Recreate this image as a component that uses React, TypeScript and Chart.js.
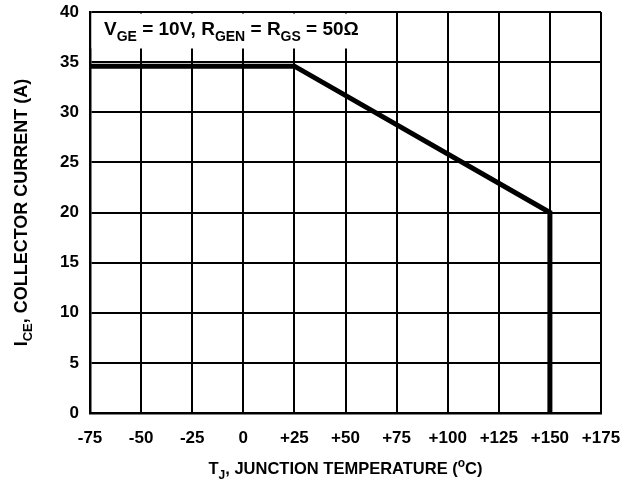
import { useEffect, useRef } from 'react';
import { Chart, registerables } from 'chart.js';

Chart.register(...registerables);

const temperatures = [-75, 25, 150, 150];
const currents = [34.6, 34.6, 20, 0];
const xMin = -75;
const xMax = 175;
const xStep = 25;
const yMin = 0;
const yMax = 40;
const yStep = 5;

const FONT = '"Liberation Sans", Arial, Helvetica, sans-serif';

type Run = { t: string; mode?: 'sub' | 'sup' };

const annotationRuns: Run[] = [
  { t: 'V' }, { t: 'GE', mode: 'sub' }, { t: ' = 10V, R' }, { t: 'GEN', mode: 'sub' },
  { t: ' = R' }, { t: 'GS', mode: 'sub' }, { t: ' = 50\u03A9' },
];
const yTitleRuns: Run[] = [{ t: 'I' }, { t: 'CE', mode: 'sub' }, { t: ', COLLECTOR CURRENT (A)' }];
const xTitleRuns: Run[] = [
  { t: 'T' }, { t: 'J', mode: 'sub' }, { t: ', JUNCTION TEMPERATURE (' }, { t: 'o', mode: 'sup' }, { t: 'C)' },
];

function runFont(size: number, r: Run) {
  const s = r.mode ? Math.round(size * 0.72) : size;
  return `bold ${s}px ${FONT}`;
}

function measureRuns(ctx: CanvasRenderingContext2D, runs: Run[], size: number) {
  let w = 0;
  for (const r of runs) {
    ctx.font = runFont(size, r);
    w += ctx.measureText(r.t).width;
  }
  return w;
}

function drawRuns(ctx: CanvasRenderingContext2D, runs: Run[], x: number, y: number, size: number) {
  ctx.textBaseline = 'alphabetic';
  ctx.textAlign = 'left';
  let cx = x;
  for (const r of runs) {
    ctx.font = runFont(size, r);
    const dy = r.mode === 'sub' ? size * 0.3 : r.mode === 'sup' ? -size * 0.4 : 0;
    ctx.fillText(r.t, cx, y + dy);
    cx += ctx.measureText(r.t).width;
  }
}

const decorPlugin = {
  id: 'decor',
  beforeDatasetsDraw(chart: any) {
    const { ctx, chartArea } = chart;
    const xs = chart.scales.x;
    ctx.save();
    ctx.fillStyle = '#fff';
    const right = xs.getPixelForValue(72);
    ctx.fillRect(chartArea.left + 1.5, chartArea.top + 1.5, right - chartArea.left - 1.5, 35);
    ctx.fillStyle = '#000';
    drawRuns(ctx, annotationRuns, chartArea.left + 14, chartArea.top + 23, 19);
    ctx.restore();
  },
  afterDraw(chart: any) {
    const { ctx, chartArea } = chart;
    ctx.save();
    ctx.fillStyle = '#000';
    const sx = 16.5;
    const wx = measureRuns(ctx, xTitleRuns, sx);
    const cx = (chartArea.left + chartArea.right) / 2;
    drawRuns(ctx, xTitleRuns, cx - wx / 2, 474, sx);
    const sy = 18;
    const wy = measureRuns(ctx, yTitleRuns, sy);
    const cy = (chartArea.top + chartArea.bottom) / 2;
    ctx.translate(27, cy);
    ctx.rotate(-Math.PI / 2);
    drawRuns(ctx, yTitleRuns, -wy / 2, 0, sy);
    ctx.restore();
  },
};

export default function App() {
  const ref = useRef<HTMLCanvasElement>(null);
  useEffect(() => {
    if (!ref.current) return;
    const chart = new Chart(ref.current, {
      type: 'line',
      data: {
        datasets: [
          {
            data: temperatures.map((t, i) => ({ x: t, y: currents[i] })),
            borderColor: '#000',
            borderWidth: 5,
            pointRadius: 0,
            fill: false,
            tension: 0,
            borderJoinStyle: 'miter',
          },
        ],
      },
      options: {
        responsive: false,
        animation: false,
        layout: { padding: { left: 0, top: 12, right: 25, bottom: 0 } },
        plugins: { legend: { display: false }, tooltip: { enabled: false }, title: { display: false } },
        scales: {
          x: {
            type: 'linear',
            min: xMin,
            max: xMax,
            ticks: {
              stepSize: xStep,
              color: '#000',
              font: { family: FONT, size: 17, weight: 'bold' },
              padding: 15,
              maxRotation: 0,
              autoSkip: false,
              callback: (v: any) => (Number(v) > 0 ? '+' + v : String(v)),
            },
            grid: { color: '#000', lineWidth: 2, drawTicks: false },
            border: { color: '#000', width: 2.5 },
            afterFit: (s: any) => { s.height = 71; s.paddingLeft = 0; s.paddingRight = 0; },
          },
          y: {
            type: 'linear',
            min: yMin,
            max: yMax,
            ticks: {
              stepSize: yStep,
              color: '#000',
              font: { family: FONT, size: 17, weight: 'bold' },
              padding: 11,
            },
            grid: { color: '#000', lineWidth: 2, drawTicks: false },
            border: { color: '#000', width: 2.5 },
            afterFit: (s: any) => { s.width = 90; s.paddingTop = 0; s.paddingBottom = 0; },
          },
        },
      },
      plugins: [decorPlugin],
    } as any);
    return () => chart.destroy();
  }, []);
  return (
    <div style={{ position: 'fixed', left: 0, top: 0, width: 626, height: 484, background: '#fff' }}>
      <canvas ref={ref} width={626} height={484} style={{ display: 'block' }} />
    </div>
  );
}
